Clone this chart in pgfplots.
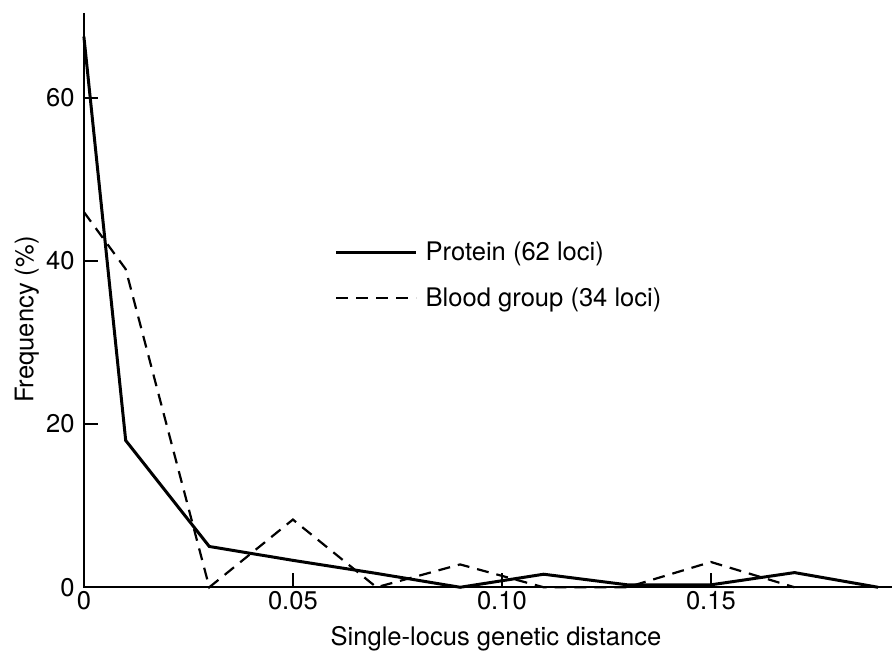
\documentclass[border=0pt]{standalone}
\usepackage{fontspec}
\setmainfont{TeX Gyre Heros}
\usepackage{pgfplots}
\pgfplotsset{compat=1.18}

\begin{document}
\begin{tikzpicture}
\begin{axis}[
  width=404.5pt, height=287.5pt, scale only axis,
  xmin=0, xmax=0.1933, ymin=0, ymax=70.4,
  axis line style={draw=none},
  xtick pos=bottom, ytick pos=left,
  xtick={0,0.05,0.10,0.15}, xticklabels={0,0.05,0.10,0.15},
  ytick={0,20,40,60},
  tick align=inside, major tick length=7pt,
  tick style={draw=black, line width=1pt},
  /pgf/number format/assume math mode=true,
  ticklabel style={font=\fontsize{12.8}{15}\selectfont},
  xticklabel style={inner sep=0pt, yshift=-2pt},
  yticklabel style={inner sep=0pt, xshift=-4.5pt},
  label style={font=\fontsize{12.8}{15}\selectfont},
  xlabel={Single-locus genetic distance},
  xlabel style={at={(axis description cs:0.51,-0.101)}, anchor=base, inner sep=0pt},
  ylabel={Frequency (\%)},
  ylabel style={at={(axis description cs:-0.0625,0.466)}, anchor=base, inner sep=0pt},
  clip=false,
  legend style={draw=none, fill=none, at={(axis description cs:0.31,0.609)}, anchor=north west,
    font=\fontsize{12.8}{15}\selectfont, row sep=8pt, column sep=2pt, inner sep=0pt,
    cells={anchor=west}},
  legend image code/.code={\draw[#1] (0pt,0pt) -- (40pt,0pt);},
  after end axis/.code={
    \draw[line width=1.1pt] (rel axis cs:0,1) -- (rel axis cs:0,0) -- (rel axis cs:1,0);
    \path (rel axis cs:0,1) ++(0,6.5pt);
    \path (rel axis cs:0,0) ++(-42pt,0);
  },
]
\addplot[black, line width=1.5pt] coordinates {
  (0,67.5) (0.01,18) (0.03,5) (0.05,3.3) (0.07,1.7) (0.09,0) (0.11,1.6)
  (0.13,0.3) (0.15,0.3) (0.17,1.8) (0.19,0)};
\addlegendentry{Protein (62 loci)}
\addplot[black, line width=1.1pt, dash pattern=on 6pt off 4pt] coordinates {
  (0,46) (0.01,39) (0.03,0) (0.05,8.3) (0.07,0) (0.09,2.8) (0.11,0)
  (0.13,0) (0.15,3.1) (0.17,0)};
\addlegendentry{Blood group (34 loci)}
\end{axis}
\end{tikzpicture}
\end{document}
